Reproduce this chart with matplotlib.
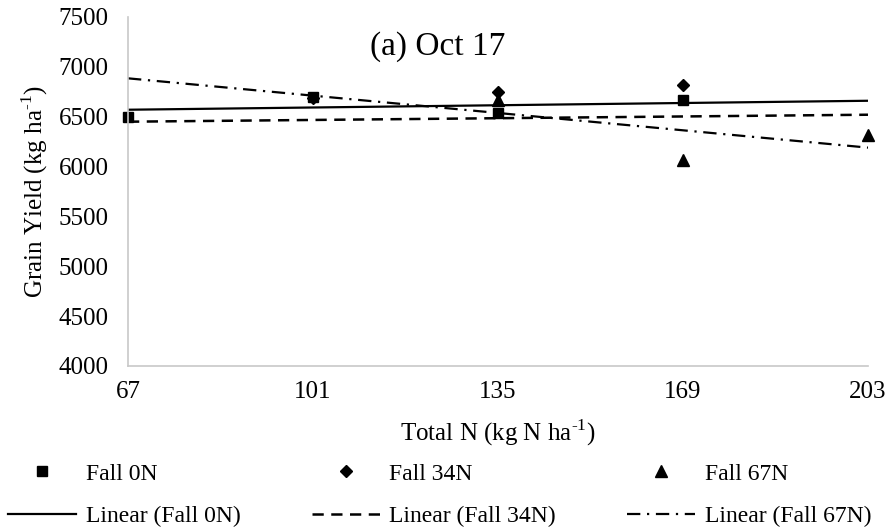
import matplotlib.pyplot as plt
from matplotlib.lines import Line2D

plt.rcParams['font.family'] = ['Liberation Serif', 'DejaVu Serif']
plt.rcParams['mathtext.fontset'] = 'custom'
plt.rcParams['mathtext.rm'] = 'Liberation Serif'

# Total N rates on the x axis
n_ticks = [67, 101, 135, 169, 203]

# Grain yield by fall N treatment
fall0n_x = [67, 101, 135, 169]
fall0n_y = [6500, 6700, 6540, 6670]
fall34n_x = [101, 135, 169]
fall34n_y = [6685, 6750, 6820]
fall67n_x = [135, 169, 203]
fall67n_y = [6670, 6070, 6320]

# Linear trendline values at x = 67 and x = 203
trend_x = [67, 203]
trend0n_y = [6570, 6660]
trend34n_y = [6450, 6520]
trend67n_y = [6885, 6190]

fig = plt.figure(figsize=(8.9, 5.29), dpi=100)
ax = fig.add_axes([128 / 890, 1 - 366 / 529, (868 - 128) / 890, (366 - 17) / 529])

ax.plot(trend_x, trend0n_y, color='black', lw=1.6, linestyle='-')
ax.plot(trend_x, trend34n_y, color='black', lw=1.8, linestyle=(0, (4.5, 3)))
ax.plot(trend_x, trend67n_y, color='black', lw=1.6, linestyle=(0, (6, 3, 1, 3)))

ax.plot(fall0n_x, fall0n_y, 's', color='black', ms=7, linestyle='none', clip_on=False)
ax.plot(fall34n_x, fall34n_y, 'D', color='black', ms=6.5, linestyle='none', clip_on=False)
ax.plot(fall67n_x, fall67n_y, '^', color='black', ms=8.5, linestyle='none', clip_on=False)

ax.set_xlim(67, 203)
ax.set_ylim(4000, 7500)
ax.set_xticks(n_ticks)
ax.set_yticks(range(4000, 7501, 500))
ax.tick_params(length=0, labelsize=18)
ax.tick_params(axis='y', pad=14)
ax.tick_params(axis='x', pad=11)

for side in ['top', 'right']:
    ax.spines[side].set_visible(False)
for side in ['left', 'bottom']:
    ax.spines[side].set_color('#c8c8c8')
    ax.spines[side].set_linewidth(1.2)

ax.set_ylabel('Grain Yield (kg ha$^{\\text{-1}}$)', fontsize=18)
ax.yaxis.set_label_coords(-0.105, 0.5)
ax.set_xlabel('Total N (kg N ha$^{\\text{-1}}$)', fontsize=18)
ax.xaxis.set_label_coords(0.5, -0.148)

ax.text(0.418, 0.915, '(a) Oct 17', transform=ax.transAxes, ha='center',
        va='center', fontsize=24)

handles = [
    Line2D([], [], marker='s', color='black', ms=7, linestyle='none'),
    Line2D([], [], color='black', lw=1.6),
    Line2D([], [], marker='D', color='black', ms=6, linestyle='none'),
    Line2D([], [], color='black', lw=1.8, linestyle=(0, (4.5, 3))),
    Line2D([], [], marker='^', color='black', ms=8, linestyle='none'),
    Line2D([], [], color='black', lw=1.6, linestyle=(0, (6, 3, 1, 3))),
]
labels = ['Fall 0N', 'Linear (Fall 0N)', 'Fall 34N', 'Linear (Fall 34N)',
          'Fall 67N', 'Linear (Fall 67N)']
fig.legend(handles, labels, ncol=3, loc='upper left',
           bbox_to_anchor=(8 / 890, 1 - 463 / 529), frameon=False,
           fontsize=17, handlelength=2.9, handletextpad=0.4,
           columnspacing=3.0, labelspacing=0.9, borderpad=0,
           borderaxespad=0)

fig.savefig('out.png', dpi=100)
